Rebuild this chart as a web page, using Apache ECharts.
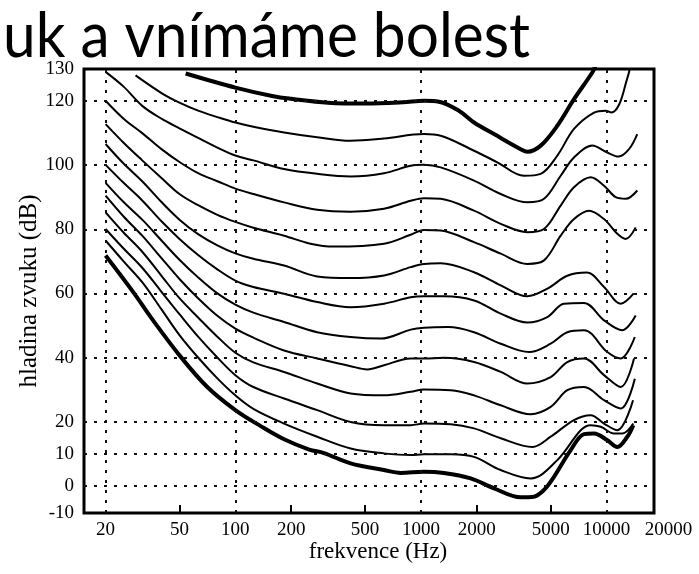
<!DOCTYPE html>
<html><head><meta charset="utf-8">
<script src="https://cdn.jsdelivr.net/npm/echarts@6/dist/echarts.min.js"></script>
<style>html,body{margin:0;padding:0;background:#fff}#c{width:699px;height:574px}</style>
</head><body><div id="c"></div>
<script>
// ---- tick labels / grid values ----
const xTickLabels = [20, 50, 100, 200, 500, 1000, 2000, 5000, 10000];
const xOuterLabel = 20000;
const xInnerTicks = [50, 200, 500, 2000, 5000];
const xGridValues = [20, 100, 1000, 10000];
const yTickValues = [-8.5, 0, 10, 20, 40, 60, 80, 100, 120, 130];
const yBottomLabel = '-10';
const yGridValues = [0, 10, 20, 40, 60, 80, 100, 120];

// ---- equal-loudness contours: [Hz, dB] ----
const threshold = [[20,71.8],[28.5,60],[35,52.6],[50.8,40.2],[70.6,30.8],[100,23.6],[137,18.6],[183,14.5],[250,11.3],[300,10.2],[418,7.0],[632,4.9],[778,4.0],[1038,4.4],[1330,4.0],[1853,2.3],[2474,-0.8],[3445,-3.6],[4063,-3.4],[4601,-1.3],[5207,2.8],[6405,11.1],[7553,16.1],[8554,16.3],[10088,14.2],[11420,12.1],[12928,15.3],[13929,18.9]];
const phon10 = [[20,76.5],[25,70],[31.5,63.5],[40,55],[50,47],[63,40],[80,33.5],[100,28.2],[125,24],[183,19.4],[276,15.3],[418,11.6],[632,10.1],[880,9.6],[1038,9.8],[1446,9.8],[1931,9.0],[2689,4.9],[3901,2.3],[5426,8.0],[7252,17.3],[8210,18.9],[9295,18.4],[10960,16.3],[12150,16.3],[13929,19.4]];
const phon20 = [[20,80.1],[25,74],[31.5,68],[40,60.5],[50,53.5],[63,46.5],[80,40],[100,34.5],[125,30.8],[183,27.2],[276,23.6],[418,19.9],[632,18.9],[880,18.9],[1038,19.4],[1446,19.2],[1931,17.9],[2689,14.8],[3980,12.1],[4997,15.3],[6673,20.5],[8210,22],[9683,19.4],[11420,17.3],[13880,26.7]];
const phon30 = [[20,85.3],[25,79],[31.5,73],[40,65.5],[50,58.5],[63,52.5],[80,46.5],[100,41.5],[125,38.5],[183,35.5],[276,31.9],[418,28.8],[632,28.2],[880,29.3],[1038,30],[1446,29.8],[1931,28.2],[2689,25.1],[3901,22.3],[4997,24.6],[6142,29.8],[7553,30.8],[9683,26.7],[11910,24.1],[14190,33.4]];
const phon40 = [[20,90.5],[25,84],[31.5,78],[40,71],[50,64.5],[63,58.5],[80,53],[100,49],[125,46.2],[183,42.2],[276,39.7],[418,37.3],[514,36.3],[632,37.6],[880,39.7],[1038,39.7],[1330,39.9],[1931,38.6],[2689,35.5],[3740,31.9],[4997,33.9],[6142,38.6],[7553,39.7],[9683,34.5],[11910,30.8],[14050,39.7]];
const phon50 = [[20,94.5],[25,88.5],[31.5,83],[40,76.5],[50,70.5],[63,65],[80,60],[100,56.5],[125,54],[183,51.1],[276,47.9],[418,46.4],[607,45.9],[880,48.7],[1038,49.3],[1400,49.5],[1931,47.9],[2689,44.3],[3819,41.7],[4997,44.3],[6142,47.9],[7553,48.5],[10088,41.7],[11910,39.7],[14190,46.4]];
const phon60 = [[20,100.1],[25,94.5],[31.5,89],[40,82.5],[50,77],[63,72],[80,67.5],[100,64],[125,62],[183,59.9],[276,57.3],[418,55.7],[632,56.8],[880,58.8],[1038,59.1],[1330,59.1],[1931,57.8],[2689,53.7],[3740,50.9],[4792,52.6],[5895,56.8],[7553,57.0],[9683,51.6],[12150,48.5],[14340,53.1]];
const phon70 = [[20,106.6],[25,100.5],[31.5,95],[40,88.5],[50,83],[63,78.5],[80,75],[100,72.5],[125,70.8],[183,68.7],[276,65.3],[418,64.8],[632,65.6],[880,68.2],[1038,69.2],[1277,69.4],[1931,66.6],[2689,62.5],[3740,59.1],[4800,61.5],[6142,65.5],[7840,66.5],[9683,62],[11910,56.8],[14000,60]];
const phon80 = [[20,112.8],[25,107],[31.5,101.5],[40,96],[50,91],[63,87.5],[80,84.5],[100,82.3],[125,80.5],[183,78],[254,75.5],[340,74.6],[632,75.5],[880,78.3],[1038,79.8],[1277,79.6],[1931,76],[2689,72.4],[3740,69.2],[4601,70.3],[5657,78],[6673,83.2],[8040,85.8],[9683,83.2],[11420,78.6],[12670,77],[14340,80.6]];
const phon90 = [[20,120.1],[25,114.5],[31.5,110],[40,105],[50,101],[63,97.5],[80,95],[100,92.7],[125,91],[183,88.4],[276,86.1],[418,85.5],[632,86.4],[880,88.9],[1038,89.7],[1277,89.5],[1931,85.8],[2689,81.7],[3740,79.1],[4601,80.1],[5657,87.4],[6673,93.1],[8210,96.2],[9683,93.6],[11200,90],[12670,89.5],[14630,92.1]];
const phon100 = [[20,129.1],[25,124.5],[31.5,118.5],[40,114.5],[50,111.5],[63,108.5],[80,105.5],[100,103],[125,101.5],[183,98.8],[276,97.3],[418,96.5],[632,97.5],[880,99.8],[1038,100.1],[1277,99.3],[1931,95.2],[2689,91],[3740,88.4],[4601,89.5],[5657,96.7],[6673,102.4],[8375,106.1],[9888,104.2],[11600,102.7],[13200,105],[14630,109.7]];
const phon110 = [[29,128],[40,122.5],[50,119.5],[63,117],[80,115],[100,113.3],[125,112],[183,110.2],[276,108.7],[418,107.6],[632,108.3],[1038,109.7],[1277,109.2],[1931,104.5],[2577,100.9],[3589,96.7],[4416,97.3],[5426,103],[6673,111.3],[8554,116.4],[9888,117],[10600,116.4],[11700,119],[12800,126.3],[13250,129.4],[13350,131]];
const phon120 = [[54,128.6],[100,124.2],[160,121.5],[200,120.7],[315,119.5],[500,119.2],[800,119.6],[1040,120.1],[1250,119.8],[1600,117],[1931,113.3],[2474,109.7],[3445,105],[3740,104.2],[4416,106.1],[5426,112.3],[6673,120.6],[8375,128.9],[8700,131]];

const curves = [
  {name:'threshold', data:threshold, thick:true},
  {name:'10', data:phon10}, {name:'20', data:phon20}, {name:'30', data:phon30},
  {name:'40', data:phon40}, {name:'50', data:phon50}, {name:'60', data:phon60},
  {name:'70', data:phon70}, {name:'80', data:phon80}, {name:'90', data:phon90},
  {name:'100', data:phon100}, {name:'110', data:phon110},
  {name:'120', data:phon120, thick:true}
];

const serif = '"Liberation Serif", "DejaVu Serif", serif';
const chart = echarts.init(document.getElementById('c'), null, {renderer:'canvas'});

const series = curves.map(c => ({
  type:'line', name:c.name, data:c.data, smooth:0.35, showSymbol:false, symbol:'none',
  lineStyle:{color:'#000', width:c.thick ? 4 : 2}, z:3, silent:true
}));
series.push({
  type:'line', data:[], silent:true, z:1,
  markLine:{
    silent:true, symbol:'none', animation:false, label:{show:false},
    lineStyle:{color:'#111', type:[3,7], width:2},
    emphasis:{disabled:true},
    data:[...xGridValues.map(v=>({xAxis:v})), ...yGridValues.map(v=>({yAxis:v}))]
  }
});

chart.setOption({
  animation:false,
  backgroundColor:'#fff',
  grid:{left:84, right:45, top:69, bottom:61, show:true, borderColor:'#000', borderWidth:3, backgroundColor:'transparent'},
  xAxis:{
    type:'log', logBase:10, min:15.3, max:18000,
    name:'frekvence (Hz)', nameLocation:'middle', nameGap:27, nameMoveOverlap:false,
    nameTextStyle:{fontFamily:serif, fontSize:23, color:'#000', padding:[0,0,0,18]},
    axisLine:{show:false, onZero:false},
    axisTick:{show:true, inside:true, length:8, customValues:xInnerTicks, lineStyle:{color:'#000', width:2}},
    axisLabel:{customValues:xTickLabels, fontFamily:serif, fontSize:19, color:'#000', margin:8,
      formatter:v => String(v)},
    splitLine:{show:false}, minorTick:{show:false}
  },
  yAxis:{
    type:'value', min:-8.5, max:130,
    name:'hladina zvuku (dB)', nameLocation:'middle', nameGap:42, nameRotate:90, nameMoveOverlap:false,
    nameTextStyle:{fontFamily:serif, fontSize:25, color:'#000'},
    axisLine:{show:false, onZero:false}, axisTick:{show:false},
    axisLabel:{customValues:yTickValues, fontFamily:serif, fontSize:19, color:'#000', margin:10,
      formatter:v => v < 0 ? yBottomLabel : String(v)},
    splitLine:{show:false}
  },
  series
});

// extra label beyond the frame, and the (cropped) slide title
const x20000 = chart.convertToPixel({xAxisIndex:0}, xOuterLabel);
const titleText = 'uk a vnímáme bolest';
const cv = document.createElement('canvas').getContext('2d');
cv.font = '62px Lato';
const tw = cv.measureText(titleText).width;
chart.setOption({
  graphic:[
    {type:'text', x:x20000 + 6, y:513 + 8, style:{text:String(xOuterLabel), font:'19px ' + serif, fill:'#000', align:'center', verticalAlign:'top'}},
    {type:'text', x:3, y:68, scaleX:527/tw, style:{text:titleText, font:'62px Lato', fill:'#000', align:'left', verticalAlign:'bottom'}}
  ]
});
</script>
</body></html>
